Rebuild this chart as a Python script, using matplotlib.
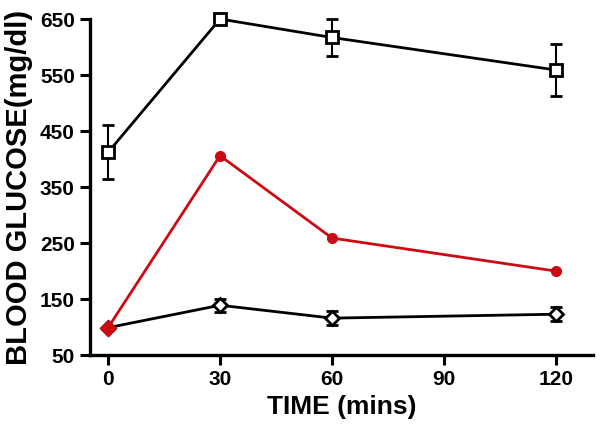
import matplotlib
matplotlib.use("Agg")
import matplotlib.pyplot as plt

# Data
time_pts = [0, 30, 60, 120]

# untreated group (open squares)
sq_mean = [412, 650, 617, 559]
sq_err = [48, 0, 33, 46]

# treated group (red circles)
red_mean = [99, 406, 259, 200]

# control group (open diamonds)
dia_mean = [99, 139, 116, 123]
dia_err = [0, 12, 13, 12]

x_ticks = [0, 30, 60, 90, 120]
y_ticks = [50, 150, 250, 350, 450, 550, 650]

plt.rcParams['font.family'] = ['Liberation Sans', 'DejaVu Sans']
plt.rcParams['font.weight'] = 'bold'

fig = plt.figure(figsize=(6.01, 4.32), dpi=100)
ax = fig.add_axes([0.150, 0.178, 0.837, 0.778])

red = '#cc0a14'

ax.errorbar(time_pts, dia_mean, yerr=dia_err, color='black', lw=2,
            marker='D', markersize=7, markerfacecolor='white',
            markeredgewidth=2, capsize=4, elinewidth=1.5, capthick=1.5,
            zorder=3, clip_on=False)
ax.errorbar(time_pts, sq_mean, yerr=sq_err, color='black', lw=2,
            marker='s', markersize=8, markerfacecolor='white',
            markeredgewidth=2, capsize=4, elinewidth=1.5, capthick=1.5,
            zorder=3, clip_on=False)
ax.plot(time_pts, red_mean, color=red, lw=2, zorder=4, clip_on=False)
ax.plot(time_pts[1:], red_mean[1:], 'o', color=red, markersize=7,
        zorder=5, clip_on=False)
ax.plot(time_pts[:1], red_mean[:1], 'D', color=red, markersize=8,
        zorder=5, clip_on=False)

ax.set_xlim(-4.8, 130)
ax.set_ylim(50, 650)
ax.set_xticks(x_ticks)
ax.set_yticks(y_ticks)

for side in ['top', 'right']:
    ax.spines[side].set_visible(False)
for side in ['left', 'bottom']:
    ax.spines[side].set_linewidth(2.4)

ax.tick_params(direction='out', length=7, width=2.2, labelsize=15, pad=4)
for lab in ax.get_xticklabels() + ax.get_yticklabels():
    lab.set_fontweight('bold')

ax.set_xlabel('TIME (mins)', fontsize=19, fontweight='bold', labelpad=4)
ax.set_ylabel('BLOOD GLUCOSE(mg/dl)', fontsize=21, fontweight='bold', labelpad=5)

plt.savefig('out.png', dpi=100)
